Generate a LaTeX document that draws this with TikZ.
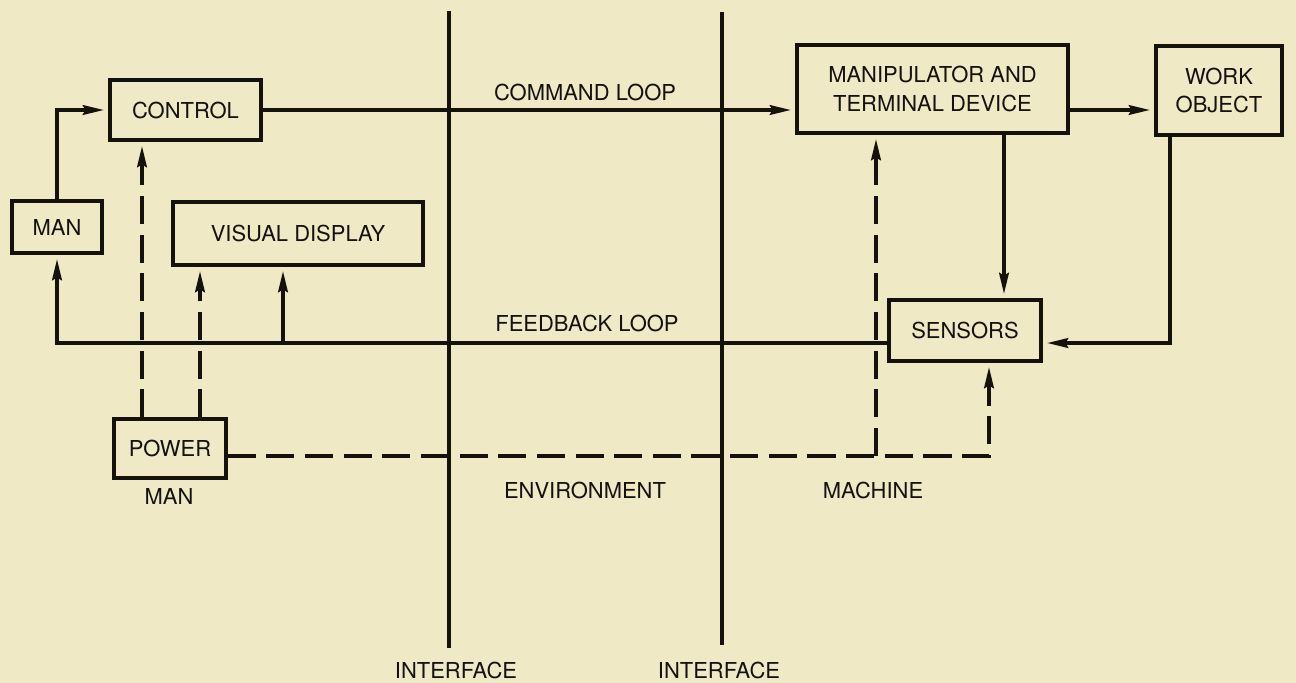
\documentclass[tikz,border=0pt]{standalone}
\usepackage{fontspec}
\setmainfont{TeX Gyre Heros}
\usetikzlibrary{arrows.meta, positioning, calc}
\definecolor{paper}{HTML}{EFE9C6}
\definecolor{ink}{HTML}{15110D}
\tikzset{
   box/.style={draw=ink, line width=1.9pt, inner sep=0pt, align=center,
      text=ink, font=\fontsize{12.5}{16}\selectfont},
   lbl/.style={inner sep=0pt, text=ink, font=\fontsize{12.5}{16}\selectfont},
   flow/.style={draw=ink, line width=1.9pt,
      -{Stealth[length=12pt, width=5.5pt, inset=1.5pt]}, shorten >=2.5pt},
   dashflow/.style={flow, dash pattern=on 16pt off 6pt},
   wall/.style={draw=ink, line width=1.9pt}
}

\begin{document}
\begin{tikzpicture}[x=0.02cm, y=-0.02cm]
            % Paper
            \fill[paper] (0,0) rectangle (1296,683);
            \useasboundingbox (0,0) rectangle (1296,683);
            % Interfaces
            \coordinate (ifa) at (449,11);
            \coordinate (ifb) at (722,12);
            \node[lbl] (ifalab) at (456,670) {INTERFACE};
            \node[lbl] (ifblab) at (719,670) {INTERFACE};
            \draw[wall] (ifa) -- (ifa |- 0,648);
            \draw[wall] (ifb) -- (ifb |- 0,645);
            % Man side
            \node[box, minimum width=3.02cm, minimum height=1.2cm] (control) at (185.5,110) {CONTROL};
            \node[box, minimum width=1.8cm, minimum height=1.04cm] (man) at (57,227) {MAN};
            \node[box, minimum width=5cm, minimum height=1.26cm] (visual) at (298,233.5) {VISUAL DISPLAY};
            \node[box, minimum width=2.24cm, minimum height=1.18cm] (power) at (170,448.5) {POWER};
            \node[lbl] (manlab) at (169,496) {MAN};
            % Machine side
            \node[box, minimum width=5.42cm, minimum height=1.76cm] (manip) at (932.5,89) {MANIPULATOR AND\\TERMINAL DEVICE};
            \node[box, minimum width=2.52cm, minimum height=1.78cm] (work) at (1219,90.5) {WORK\\OBJECT};
            \node[box, minimum width=3.04cm, minimum height=1.22cm] (sensors) at (965,330.5) {SENSORS};
            \node[lbl] (envlab) at (585,490) {ENVIRONMENT};
            \node[lbl] (maclab) at (873,490) {MACHINE};
            % Command loop
            \draw[flow] (man.north) |- (control.west);
            \draw[flow] (control.east) -- (control.east -| manip.west);
            \draw[flow] (manip.east |- control.east) -- (work.west |- control.east);
            \node[lbl] (cmdlab) at (585,92) {COMMAND LOOP};
            % Feedback loop
            \coordinate (fb) at (57,343);
            \coordinate (vtap) at (283,343);
            \draw[flow] (sensors.west |- fb) -- (fb) -- (man.south);
            \draw[flow] (vtap) -- (visual.south -| vtap);
            \draw[flow] (manip.south -| 1004,0) -- (sensors.north -| 1004,0);
            \draw[flow] (work.south -| 1170,0) |- (sensors.east |- fb);
            \node[lbl] (fblab) at (587,323) {FEEDBACK LOOP};
            % Power lines (dashed)
            \coordinate (pwr) at (989,456);
            \draw[dashflow] (power.east |- pwr) -- (pwr) -- (sensors.south -| pwr);
            \draw[dashflow] (pwr -| 876,0) -- (manip.south -| 876,0);
            \draw[dashflow] (power.north -| 142,0) -- (control.south -| 142,0);
            \draw[dashflow] (power.north -| 200,0) -- (visual.south -| 200,0);
\end{tikzpicture}
\end{document}
